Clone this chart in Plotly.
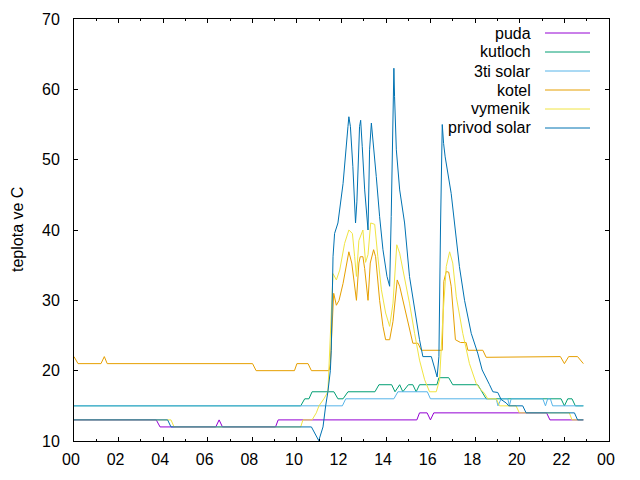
import plotly.graph_objects as go

# ---------------- data (hours of day, temperature in C) ----------------
tick_hours = list(range(0, 25, 2))
tick_labels = ["00", "02", "04", "06", "08", "10", "12", "14", "16", "18", "20", "22", "00"]

puda_t = [0, 3.69, 3.86, 6.36, 6.51, 6.66, 9.04, 9.16, 15.38, 15.50, 15.84, 15.99, 16.14, 21.20, 21.35, 22.85]
puda_v = [13, 13, 12, 12, 13, 12, 12, 13, 13, 14, 14, 13, 14, 14, 13, 13]

kutloch_t = [0, 10.17, 10.35, 10.54, 10.68, 11.66, 11.84, 12.07, 12.29, 13.50, 13.68, 14.25, 14.40,
             14.61, 14.75, 15.00, 15.20, 15.35, 15.50, 16.28, 16.37, 16.81, 16.99, 18.11, 18.30,
             18.49, 21.85, 22.00, 22.15, 22.34, 22.49, 22.85]
kutloch_v = [15, 15, 16, 16, 17, 17, 16, 16, 17, 17, 18, 18, 17,
             18, 17, 18, 18, 17, 18, 18, 19, 19, 18, 18, 17,
             16, 16, 15, 16, 16, 15, 15]

solar3_t = [0, 12.04, 12.19, 14.35, 14.53, 15.85, 15.99, 18.94, 19.02, 19.16, 19.46, 19.53, 19.61,
            21.03, 21.15, 21.25, 21.37, 21.47, 22.85]
solar3_v = [15, 15, 16, 16, 17, 17, 16, 16, 15, 16, 16, 15, 16,
            16, 15, 16, 16, 15, 15]

kotel_t = [0, 0.18, 1.21, 1.36, 1.49, 8.01, 8.17, 9.89, 10.00, 10.50, 10.65, 11.44, 11.50,
           11.62, 11.65, 11.77, 11.89, 12.07, 12.22, 12.33, 12.46, 12.54, 12.67, 12.78, 12.84,
           12.96, 13.04, 13.19, 13.29, 13.44, 13.53, 13.71, 13.86, 13.98, 14.16, 14.31, 14.43,
           14.50, 14.61, 14.83, 15.05, 15.20, 15.43, 15.58, 16.52, 16.55, 16.59, 16.70, 16.81,
           16.92, 17.03, 17.11, 17.34, 17.59, 17.67, 18.34, 18.49, 21.82, 22.00, 22.19, 22.59, 22.85]
kotel_v = [22, 21, 21, 22, 21, 21, 20, 20, 21, 21, 20, 20, 21,
           29.5, 31, 29.3, 30, 32.4, 35.3, 36.9, 35.3, 33, 30, 35.3, 36.2,
           36.2, 34.5, 30, 35.3, 37.2, 36.2, 30, 26.3, 24.4, 24.4, 27, 31.5,
           32.9, 32, 29.1, 25.8, 23.9, 23.9, 22.9, 22.9, 25.8, 32.7, 34.1, 34,
           32, 28.2, 24.4, 24, 24, 22.9, 22.9, 21.9, 22, 21, 22, 22, 21]

vymenik_t = [0, 4.35, 4.49, 10.17, 10.27, 10.68, 10.87, 10.99, 11.21, 11.39,
             11.62, 11.77, 11.92, 12.14, 12.33, 12.49, 12.59, 12.67, 12.78, 12.96, 13.08, 13.19,
             13.31, 13.49, 13.63, 13.79, 13.98, 14.16, 14.31, 14.48, 14.61, 14.83, 15.05, 15.28,
             15.50, 15.73, 15.95, 16.25, 16.40, 16.55, 16.70, 16.85, 16.99, 17.15, 17.44, 17.74,
             18.04, 18.19, 18.41, 18.56, 18.94, 19.09, 19.83, 19.98, 22.22, 22.34, 22.85]
vymenik_v = [13, 13, 12, 12, 13, 13, 14, 15, 16, 17,
             33.8, 32.9, 34.3, 38.1, 40, 39.5, 36.2, 33.4, 38.5, 40, 35.4, 36.5,
             41, 40.8, 36.2, 31.5, 28.2, 26.3, 29.6, 37.9, 36.7, 33.4, 29.6, 25.3,
             21.5, 18.7, 17, 17, 18.7, 27.7, 34.8, 36.9, 35.3, 30.5, 25.3, 21,
             18.2, 17.5, 16.8, 16, 16, 15, 15, 14, 14, 13, 13]

privod_t = [0, 4.20, 4.35, 10.65, 10.98, 11.17, 11.29, 11.39, 11.50, 11.54, 11.62, 11.69, 11.84,
            12.07, 12.29, 12.33, 12.40, 12.51, 12.63, 12.69, 12.81, 12.86, 12.93, 13.04, 13.19,
            13.26, 13.34, 13.41, 13.56, 13.71, 13.86, 14.04, 14.16, 14.23, 14.31, 14.35, 14.38,
            14.46, 14.61, 14.83, 15.05, 15.28, 15.50, 15.65, 16.03, 16.29, 16.37, 16.44, 16.52,
            16.58, 16.65, 16.92, 17.07, 17.29, 17.52, 17.82, 18.11, 18.31, 18.64, 18.79, 19.01,
            19.16, 19.39, 19.50, 20.13, 20.28, 22.45, 22.59, 22.85]
privod_v = [13, 13, 12, 12, 10.05, 12, 15, 17, 20, 22.9, 36.2, 39.5, 41,
            46.6, 54.7, 56.1, 54.7, 49, 41, 44, 54.7, 55.6, 51.9, 45.7, 40,
            51.4, 55.2, 53, 47.6, 41.9, 37.2, 33.4, 32, 41.9, 56.1, 63, 59,
            51.4, 45.7, 41, 33.4, 28.6, 24.4, 22, 22, 19.1, 22, 40, 55,
            52.3, 50.4, 45.2, 41, 34.8, 30, 25.3, 22.5, 20.1, 18, 17, 16.9,
            15.9, 15.4, 15, 15, 14, 14, 13, 13]

series_names = ["puda", "kutloch", "3ti solar", "kotel", "vymenik", "privod solar"]
series_t = [puda_t, kutloch_t, solar3_t, kotel_t, vymenik_t, privod_t]
series_v = [puda_v, kutloch_v, solar3_v, kotel_v, vymenik_v, privod_v]
colors = ["#9400d3", "#009e73", "#56b4e9", "#e69f00", "#f0e442", "#0072b2"]

# ---------------- layout constants ----------------
W, H = 640, 480
L, R, T, B = 74, 31, 19, 39
FONT = "Liberation Sans, Arial, sans-serif"
pw = W - L - R
ph = H - T - B

def px_x(p):
    return (p - L) / pw

def px_y(p):
    return (H - B - p) / ph

fig = go.Figure()
for name, t, v, c in zip(series_names, series_t, series_v, colors):
    fig.add_trace(go.Scatter(x=t, y=v, mode="lines", name=name,
                             line=dict(color=c, width=1), showlegend=False))

# gnuplot-style key: text right-aligned, sample line to the right
annotations = []
shapes = []
key_text_right = 533
key_line = (545, 590)
key_y0, key_dy = 33, 19
for i, (name, c) in enumerate(zip(series_names, colors)):
    yy = key_y0 + i * key_dy
    annotations.append(dict(text=name, x=px_x(key_text_right), y=px_y(yy), xref="paper", yref="paper",
                            xanchor="right", yanchor="middle", showarrow=False,
                            font=dict(family=FONT, size=16, color="black")))
    shapes.append(dict(type="line", xref="paper", yref="paper",
                       x0=px_x(key_line[0]), x1=px_x(key_line[1]), y0=px_y(yy), y1=px_y(yy),
                       line=dict(color=c, width=1)))

annotations.append(dict(text="teplota ve C", x=px_x(17), y=px_y(230), xref="paper", yref="paper",
                        xanchor="center", yanchor="middle", textangle=-90, showarrow=False,
                        font=dict(family=FONT, size=16, color="black")))

fig.update_layout(
    width=W, height=H,
    margin=dict(l=L, r=R, t=T, b=B, pad=0),
    paper_bgcolor="white", plot_bgcolor="white",
    font=dict(family=FONT, size=16, color="black"),
    annotations=annotations, shapes=shapes,
    showlegend=False,
)
fig.update_xaxes(range=[0, 24], tickvals=tick_hours, ticktext=tick_labels,
                 showgrid=False, zeroline=False, showline=True, linecolor="black", linewidth=1,
                 mirror="allticks", ticks="inside", ticklen=4, tickcolor="black", tickwidth=1,
                 minor=dict(dtick=1, tick0=0, ticks="inside", ticklen=2, tickcolor="black", showgrid=False),
                 automargin=False, ticklabelstandoff=4, ticklabelshift=-3,
                 tickfont=dict(family=FONT, size=16, color="black"))
fig.update_yaxes(range=[10, 70], dtick=10, tick0=10,
                 showgrid=False, zeroline=False, showline=True, linecolor="black", linewidth=1,
                 mirror="allticks", ticks="inside", ticklen=4, tickcolor="black", tickwidth=1,
                 automargin=False, ticklabelstandoff=10, tickfont=dict(family=FONT, size=16, color="black"))

fig.write_html("out.html")
